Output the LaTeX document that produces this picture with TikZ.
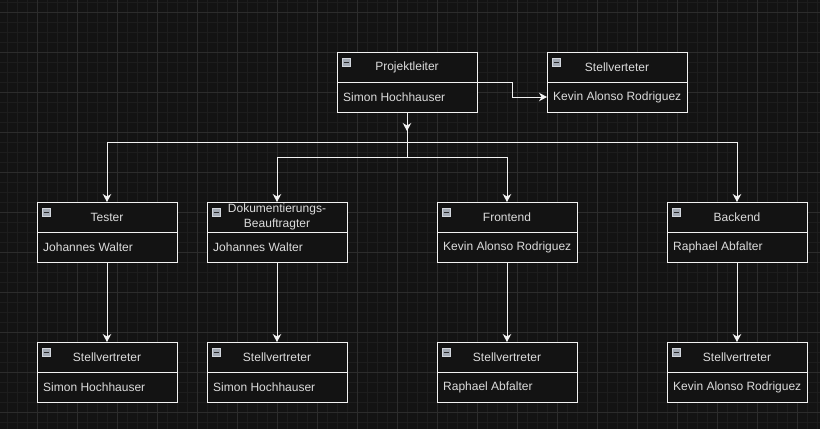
\documentclass[tikz,border=0pt]{standalone}
\usepackage{fontspec}
\setmainfont{Liberation Sans}
\usetikzlibrary{arrows.meta,calc}
\definecolor{bgc}{HTML}{131313}
\definecolor{minorc}{HTML}{1D1D1D}
\definecolor{majorc}{HTML}{2C2C2C}
\definecolor{linec}{HTML}{F2F2F2}
\definecolor{txtc}{HTML}{DCDCDC}
\definecolor{iconfill}{HTML}{A4ABB6}
\definecolor{iconborder}{HTML}{D4D8DE}
\definecolor{iconminus}{HTML}{2A2A2A}
\tikzset{
  orgcard/.style={draw=linec, line width=1pt, fill=bgc, minimum width=140pt, minimum height=60pt, inner sep=0pt, outer sep=0pt, anchor=north west},
  divider/.style={draw=linec, line width=1pt},
  titletxt/.style={text=txtc, font=\fontsize{12pt}{14.5pt}\selectfont, align=center, inner sep=0pt},
  bodytxt/.style={text=txtc, font=\fontsize{12pt}{14.5pt}\selectfont, inner sep=0pt, anchor=west},
  iconbox/.style={draw=iconborder, line width=0.8pt, fill=iconfill, minimum width=8pt, minimum height=8pt, inner sep=0pt, anchor=north west},
  iconbar/.style={draw=iconminus, line width=1.4pt},
  wire/.style={draw=linec, line width=1pt},
  arrowwire/.style={wire, -{Stealth[length=8pt,width=8.5pt,inset=2.5pt]}},
  minorgrid/.style={draw=minorc, line width=1pt},
  majorgrid/.style={draw=majorc, line width=1pt},
}
\newcommand\orgbox[5]{%
  \node[orgcard] (#1) at (#2,#3) {};
  \draw[divider] (#1.west) -- (#1.east);
  \node[titletxt] (#1-t) at ($(#1.north)+(0,15)$) {#4};
  \node[bodytxt] (#1-b) at ($(#1.west)+(6,15)$) {#5};
  \node[iconbox] (#1-i) at ($(#1.north west)+(5,6)$) {};
  \draw[iconbar] ($(#1-i.west)+(1.6,0)$) -- ($(#1-i.east)+(-1.6,0)$);
}
\begin{document}
\begin{tikzpicture}[x=1pt,y=-1pt]
\fill[bgc] (0,0) rectangle (820,429);
\useasboundingbox (0,0) rectangle (820,429);
\foreach \gx in {7,17,...,817} \draw[minorgrid] (\gx,0) -- (\gx,429);
\foreach \gy in {2,12,...,422} \draw[minorgrid] (0,\gy) -- (820,\gy);
\foreach \gx in {37,77,...,797} \draw[majorgrid] (\gx,0) -- (\gx,429);
\foreach \gy in {12,52,...,412} \draw[majorgrid] (0,\gy) -- (820,\gy);

\orgbox{pl}{337}{52}{Projektleiter}{Simon Hochhauser}
\orgbox{sv}{547}{52}{Stellverteter}{Kevin Alonso Rodriguez}
\orgbox{tester}{37}{202}{Tester}{Johannes Walter}
\orgbox{doku}{207}{202}{Dokumentierungs-\\Beauftragter}{Johannes Walter}
\orgbox{front}{437}{202}{Frontend}{Kevin Alonso Rodriguez}
\orgbox{back}{667}{202}{Backend}{Raphael Abfalter}
\orgbox{svtester}{37}{342}{Stellvertreter}{Simon Hochhauser}
\orgbox{svdoku}{207}{342}{Stellvertreter}{Simon Hochhauser}
\orgbox{svfront}{437}{342}{Stellvertreter}{Raphael Abfalter}
\orgbox{svback}{667}{342}{Stellvertreter}{Kevin Alonso Rodriguez}

% Projektleiter -> Stellverteter
\draw[arrowwire] (pl.east) -- ++(35,0) |- ($(sv.west)+(0,15)$);

% tree from Projektleiter
\coordinate (mid) at (407,131);
\coordinate (busA) at (407,142);
\coordinate (busB) at (407,157);
\draw[wire] (pl.south) -- (busB);
\draw[arrowwire] (pl.south) -- (mid);
\draw[wire] (busA -| tester.north) -- (busA -| back.north);
\draw[wire] (busB -| doku.north) -- (busB -| front.north);
\draw[arrowwire] (busA -| tester.north) -- (tester.north);
\draw[arrowwire] (busA -| back.north) -- (back.north);
\draw[arrowwire] (busB -| doku.north) -- (doku.north);
\draw[arrowwire] (busB -| front.north) -- (front.north);

% level 2 -> level 3
\draw[arrowwire] (tester.south) -- (svtester.north);
\draw[arrowwire] (doku.south) -- (svdoku.north);
\draw[arrowwire] (front.south) -- (svfront.north);
\draw[arrowwire] (back.south) -- (svback.north);
\end{tikzpicture}
\end{document}
